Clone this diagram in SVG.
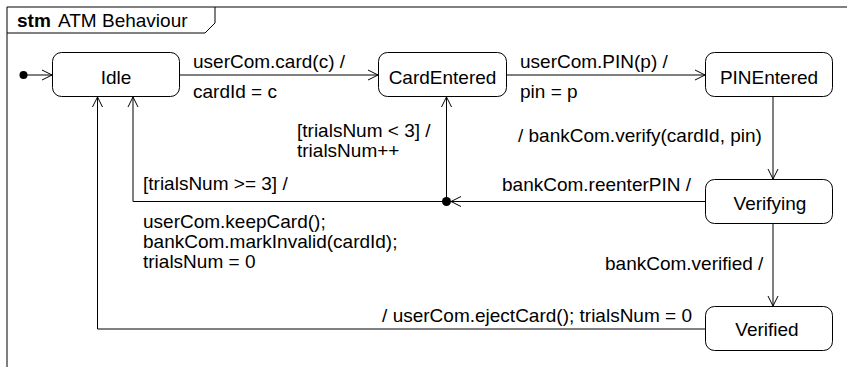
<svg xmlns="http://www.w3.org/2000/svg" width="847" height="367" viewBox="0 0 847 367">
<defs>
<style>
text{font-family:"Liberation Sans",Arial,sans-serif;font-size:19px;fill:#000}
.st{fill:#fff;stroke:#000;stroke-width:1}
.ln{fill:none;stroke:#000;stroke-width:1}
.c{text-anchor:middle}
.e{text-anchor:end}
</style>
<marker id="arr" viewBox="0 0 12 12" refX="11" refY="6" markerWidth="12" markerHeight="12" markerUnits="userSpaceOnUse" orient="auto">
<path d="M1,1 L11,6 L1,11" fill="none" stroke="#000" stroke-width="1"/>
</marker>
</defs>
<rect width="847" height="367" fill="#fff"/>
<g id="frame">
<path class="ln" d="M7,370 V7 H850"/>
<path class="ln" d="M7,33 H205 L215,23 V7"/>
<text x="17" y="27" font-weight="bold">stm</text>
<text x="58" y="27">ATM Behaviour</text>
</g>
<g id="connectors">
<circle cx="23.5" cy="75" r="4" fill="#000"/>
<line class="ln" x1="23" y1="75" x2="52" y2="75" marker-end="url(#arr)"/>
<line class="ln" x1="180" y1="75" x2="378" y2="75" marker-end="url(#arr)"/>
<line class="ln" x1="507" y1="75" x2="705" y2="75" marker-end="url(#arr)"/>
<line class="ln" x1="773" y1="97" x2="773" y2="179" marker-end="url(#arr)"/>
<line class="ln" x1="705" y1="201.5" x2="451" y2="201.5" marker-end="url(#arr)"/>
<circle cx="446.5" cy="201.5" r="4.5" fill="#000"/>
<line class="ln" x1="446.5" y1="201.5" x2="446.5" y2="97" marker-end="url(#arr)"/>
<path class="ln" d="M446.5,201.5 H133 V97" marker-end="url(#arr)"/>
<line class="ln" x1="773" y1="224" x2="773" y2="306" marker-end="url(#arr)"/>
<path class="ln" d="M705,329 H97.5 V97" marker-end="url(#arr)"/>
<text x="193" y="68">userCom.card(c) /</text>
<text x="193" y="98">cardId = c</text>
<text x="520" y="68">userCom.PIN(p) /</text>
<text x="520" y="98">pin = p</text>
<text x="518" y="142">/ bankCom.verify(cardId, pin)</text>
<text x="502" y="191">bankCom.reenterPIN /</text>
<text x="297" y="137">[trialsNum &lt; 3] /</text>
<text x="297" y="157">trialsNum++</text>
<text x="143" y="190">[trialsNum &gt;= 3] /</text>
<text x="143" y="228">userCom.keepCard();</text>
<text x="143" y="248">bankCom.markInvalid(cardId);</text>
<text x="143" y="268">trialsNum = 0</text>
<text x="605" y="270">bankCom.verified /</text>
<text class="e" x="692" y="322">/ userCom.ejectCard(); trialsNum = 0</text>
</g>
<g id="Idle">
<rect class="st" x="52.5" y="52.5" width="127" height="44" rx="9"/>
<text class="c" x="116" y="84">Idle</text>
</g>
<g id="CardEntered">
<rect class="st" x="378.5" y="52.5" width="128" height="44" rx="9"/>
<text class="c" x="442.5" y="84">CardEntered</text>
</g>
<g id="PINEntered">
<rect class="st" x="705.5" y="52.5" width="127" height="44" rx="9"/>
<text class="c" x="769" y="84">PINEntered</text>
</g>
<g id="Verifying">
<rect class="st" x="705.5" y="179.5" width="127" height="44" rx="9"/>
<text class="c" x="770" y="210">Verifying</text>
</g>
<g id="Verified">
<rect class="st" x="705.5" y="306.5" width="127" height="44" rx="9"/>
<text class="c" x="767" y="336">Verified</text>
</g>
</svg>
